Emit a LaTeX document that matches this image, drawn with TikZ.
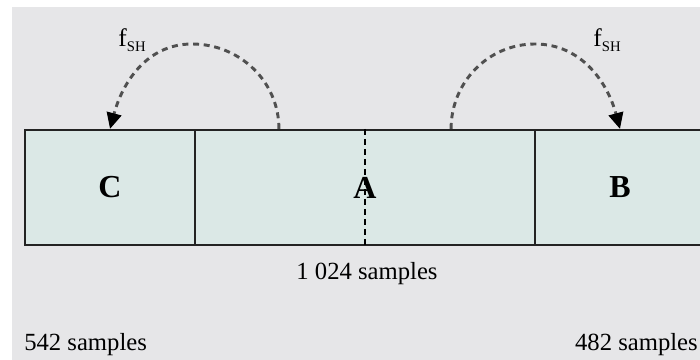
\documentclass[tikz,border=0pt]{standalone}
\usepackage{fontspec}
\setmainfont{Liberation Serif}
\usetikzlibrary{arrows.meta}
\definecolor{bgG}{RGB}{230,230,232}
\definecolor{cellF}{RGB}{219,232,230}
\definecolor{lineK}{RGB}{35,35,35}
\definecolor{jumpG}{RGB}{80,80,80}

\begin{document}
\begin{tikzpicture}[x=0.75pt,y=0.75pt,
  cell/.style={draw=lineK,line width=1.6pt,fill=cellF,minimum height=86.25pt,inner sep=0pt,font=\fontsize{24}{26}\selectfont\bfseries},
  jump/.style={draw=jumpG,line width=2.2pt,dash pattern=on 4.5pt off 3.5pt,-{Triangle[length=12pt,width=11pt,fill=black,color=black]}},
  cnt/.style={inner sep=0pt,font=\fontsize{18.5}{20}\selectfont},
  fsh/.style={inner sep=0pt,font=\fontsize{19}{20}\selectfont}]
\useasboundingbox (0,0) rectangle (700,360);
\clip (0,0) rectangle (700,360);
\fill[white] (0,0) rectangle (700,360);
\fill[bgG] (12,0) rectangle (700,353);
% frame cells
\node[cell,minimum width=127.5pt] (boxC) at (110,172.5) {C};
\node[cell,minimum width=255pt] (boxA) at (365,172.5) {A};
\node[cell,minimum width=127.5pt] (boxB) at (620,172.5) {B};
\draw[black,line width=1.5pt,dash pattern=on 4.5pt off 3pt] (boxA.north) -- (boxA.south);
% circular shifts
\coordinate (fromL) at ([xshift=63.75pt]boxA.north west);
\coordinate (fromR) at ([xshift=-63.75pt]boxA.north east);
\coordinate (topL) at (192,316);
\coordinate (topR) at (535,316);
\draw[jump] (fromL) to[out=90,in=0] (topL) to[out=180,in=75] (boxC.north);
\draw[jump] (fromR) to[out=90,in=180] (topR) to[out=0,in=105] (boxB.north);
\node[fsh] (fshL) at (132,320) {f\raisebox{-0.45ex}{\fontsize{11}{12}\selectfont SH}};
\node[fsh] (fshR) at (607,320) {f\raisebox{-0.45ex}{\fontsize{11}{12}\selectfont SH}};
% lengths
\node[cnt] (total) at (367,86) {1 024 samples};
\node[cnt,anchor=west] (lenC) at (24,15) {542 samples};
\node[cnt,anchor=east] (lenB) at (698,15) {482 samples};
\end{tikzpicture}
\end{document}
